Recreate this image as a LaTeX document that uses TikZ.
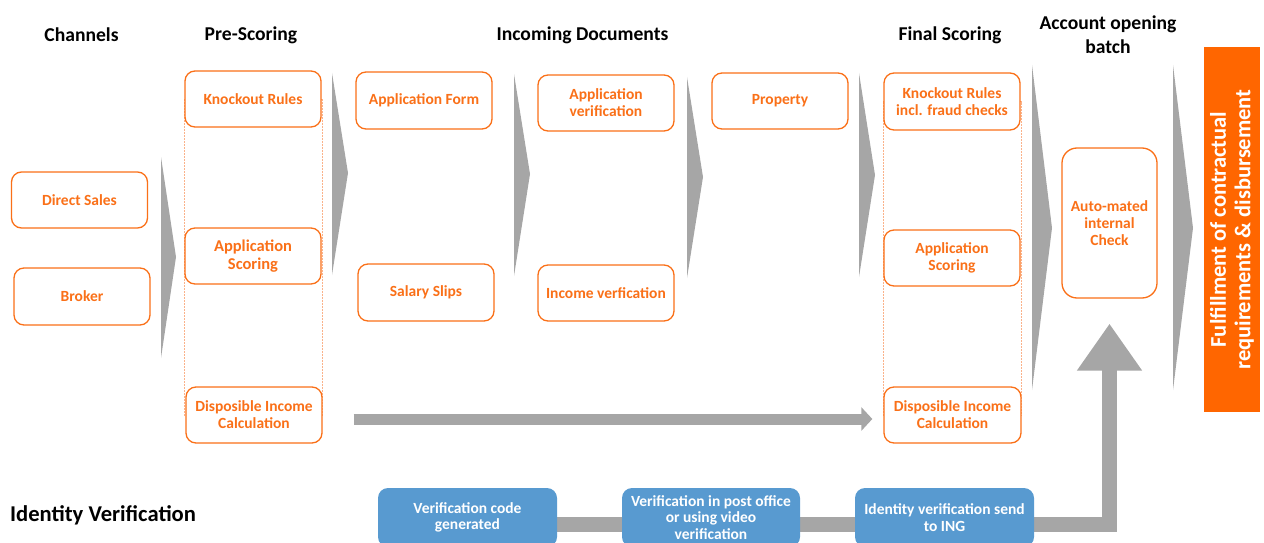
\documentclass[tikz,border=0pt]{standalone}
\usepackage{fontspec}
\setmainfont{Carlito}
\usetikzlibrary{arrows.meta,backgrounds}
\definecolor{org}{RGB}{255,102,0}
\definecolor{orgt}{RGB}{250,112,24}
\definecolor{orgl}{RGB}{250,178,138}
\definecolor{gry}{RGB}{166,166,166}
\definecolor{blu}{RGB}{88,154,208}
\tikzset{
  obox/.style={draw=orgt, line width=1.3pt, rounded corners=10pt, fill=white, text=orgt,
    align=center, font=\fontsize{15.5}{17}\selectfont\bfseries, inner sep=0pt,
    minimum width=136pt, minimum height=56pt},
  bbox/.style={fill=blu, rounded corners=10pt, text=white, align=center,
    font=\fontsize{15.5}{16.5}\selectfont\bfseries, inner sep=0pt,
    minimum width=179pt, minimum height=59pt},
  ttl/.style={align=center, font=\fontsize{19.6}{24}\selectfont\bfseries, inner sep=0pt},
  colline/.style={draw=orgl, line width=0.8pt, dash pattern=on 2pt off 1pt},
  chev/.style={fill=gry},
}
\begin{document}
\begin{tikzpicture}[x=1pt,y=-1pt]
\useasboundingbox (0,0) rectangle (1264,543);
% titles
\node[ttl] (tch) at (81.5,35) {Channels};
\node[ttl] (tps) at (251,35) {Pre-Scoring};
\node[ttl] (tid) at (582.5,35) {Incoming Documents};
\node[ttl] (tfs) at (950,35) {Final Scoring};
\node[ttl] (tao) at (1108,35) {Account opening\\batch};
\node[ttl, anchor=west, font=\fontsize{22.6}{26}\selectfont\bfseries] (tiv) at (10,515) {Identity Verification};
% orange boxes
\node[obox] (ds) at (79.5,200) {Direct Sales};
\node[obox, minimum height=57pt] (br) at (82,296.5) {Broker};
\node[obox] (ko1) at (253,99) {Knockout Rules};
\node[obox, font=\fontsize{16.5}{18}\selectfont\bfseries] (as1) at (253,256) {Application\\Scoring};
\node[obox] (di1) at (254,415) {Disposible Income\\Calculation};
\node[obox, minimum height=57pt] (af) at (424,100.5) {Application Form};
\node[obox, minimum height=57pt] (ss) at (426,292.5) {Salary Slips};
\node[obox] (av) at (606,103) {Application\\verification};
\node[obox] (iv) at (606,293) {Income verfication};
\node[obox] (pr) at (780,101) {Property};
\node[obox, minimum height=57pt] (ko2) at (952,101.5) {Knockout Rules\\incl. fraud checks};
\node[obox] (as2) at (952,258) {Application\\Scoring};
\node[obox, minimum width=137pt] (di2) at (952.5,415) {Disposible Income\\Calculation};
\node[obox, minimum width=95pt, minimum height=150pt, rounded corners=15pt] (amc) at (1109.5,223) {Auto-mated\\internal\\Check};
% final bar
\node[fill=org, text=white, rotate=90, minimum width=365pt, minimum height=56pt, align=center,
  font=\fontsize{22.5}{24.5}\selectfont\bfseries, inner sep=0pt] (ful) at (1232,229.5)
  {Fulfillment of contractual\\requirements \& disbursement};
% blue boxes
\node[bbox] (b1) at (467.5,517.5) {Verification code\\generated};
\node[bbox, minimum width=178pt] (b2) at (711,517.5) {Verification in post office\\or using video\\verification};
\node[bbox] (b3) at (944.5,517.5) {Identity verification send\\to ING};
% chevrons
\fill[chev] (161,157) -- (176,257) -- (161,358) -- cycle;
\fill[chev] (332,73) -- (348,173) -- (332,275) -- cycle;
\fill[chev] (514,74) -- (530,174) -- (514,276) -- cycle;
\fill[chev] (687,77) -- (703,177) -- (687,278) -- cycle;
\fill[chev] (859,73) -- (875,175) -- (859,277) -- cycle;
\fill[chev] (1032,65) -- (1052,228) -- (1032,390) -- cycle;
\fill[chev] (1173,65) -- (1193,228) -- (1173,390) -- cycle;
\coordinate (idy) at (0,524.5);
\begin{scope}[on background layer]
  \draw[colline] (ko1.west) rectangle (di1.east);
  \draw[colline] (ko2.west) rectangle (di2.east);
  \draw[gry, line width=11pt, -{Triangle[width=23pt,length=11pt]}, shorten <=31pt, shorten >=11pt]
    ([yshift=-4pt]di1.east) -- ([yshift=-4pt]di2.west);
  \draw[gry, line width=15pt, line join=miter, -{Triangle[width=62pt,length=47pt]}]
    (b1.center |- idy) -| ([yshift=-25pt]amc.south);
\end{scope}
\end{tikzpicture}
\end{document}
